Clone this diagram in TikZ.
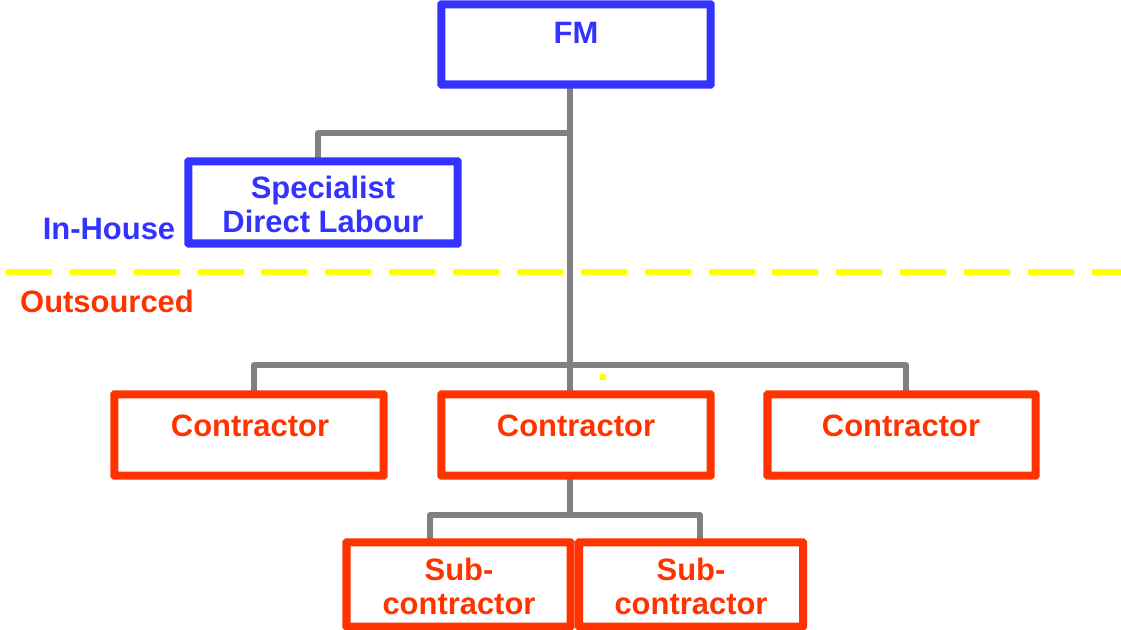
\documentclass[tikz,border=0pt]{standalone}
\usepackage{fontspec}
\setmainfont{Liberation Sans}
\definecolor{fmblue}{RGB}{51,51,255}
\definecolor{fmred}{RGB}{255,51,0}
\definecolor{conngray}{RGB}{128,128,128}
\definecolor{lineyellow}{RGB}{255,255,0}
\begin{document}
\begin{tikzpicture}[x=0.75pt,y=-0.75pt,
  box/.style={draw,rectangle,line width=4.1pt,fill=white,inner sep=0pt,rounded corners=1pt,minimum width=199.9pt},
  bluebox/.style={box,draw=fmblue},
  redbox/.style={box,draw=fmred},
  lbl/.style={font=\bfseries\fontsize{23.2}{25.5}\selectfont,align=center,inner sep=0pt},
  bluelbl/.style={lbl,text=fmblue},
  redlbl/.style={lbl,text=fmred},
  conn/.style={draw=conngray,line width=4.2pt,line join=round}]
\useasboundingbox (0,0) rectangle (1121,630);

% junction coordinates
\coordinate (j1) at (570,133);
\coordinate (s1) at (318,133);
\coordinate (b1) at (254,365);
\coordinate (b2) at (906,365);
\coordinate (k0) at (570,515);
\coordinate (k1) at (430,515);
\coordinate (k2) at (700,515);

% dashed separator
\draw[lineyellow,line width=4.5pt,dash pattern=on 34.5pt off 13.4pt] (6,272) -- (1121,272);
\fill[lineyellow] (600,374) rectangle (606,380);

% boxes
\path
  node[bluebox,minimum height=58.1pt] (fm) at (576,44.5) {}
  node[bluebox,minimum height=59.6pt] (spec) at (323,202.5) {}
  node[redbox,minimum height=58.9pt] (cl) at (249,435) {}
  node[redbox,minimum height=58.9pt] (cm) at (576,435) {}
  node[redbox,minimum height=58.9pt,minimum width=199.1pt] (cr) at (901.5,435) {}
  node[redbox,minimum height=61.1pt,minimum width=166.1pt] (sl) at (458.5,584.5) {}
  node[redbox,minimum height=61.1pt,minimum width=166.1pt] (sr) at (691,584.5) {};

% connectors
\draw[conn] (fm.south -| j1) -- (cm.north -| j1);
\draw[conn] (j1) -- (s1) -- (s1 |- spec.north);
\draw[conn] (b1 |- cl.north) -- (b1) -- (b2) -- (b2 |- cr.north);
\draw[conn] (cm.south -| k0) -- (k0);
\draw[conn] (k1 |- sl.north) -- (k1) -- (k2) -- (k2 |- sr.north);

% box outlines on top of connector ends
\foreach \n/\c in {fm/fmblue,spec/fmblue,cl/fmred,cm/fmred,cr/fmred,sl/fmred,sr/fmred}{
  \draw[\c,line width=4.1pt,rounded corners=1pt] (\n.north west) rectangle (\n.south east);
}

% labels
\node[bluelbl] (tfm) at (576,33) {FM};
\node[bluelbl] (tspec) at (323,204) {Specialist\\Direct Labour};
\node[bluelbl] (tin) at (109,229) {In-House};
\node[redlbl] (tout) at (107,301) {Outsourced};
\node[redlbl] (tcl) at (250,426) {Contractor};
\node[redlbl] (tcm) at (576,426) {Contractor};
\node[redlbl] (tcr) at (901,426) {Contractor};
\node[redlbl] (tsl) at (459,586) {Sub-\\contractor};
\node[redlbl] (tsr) at (691,586) {Sub-\\contractor};
\end{tikzpicture}
\end{document}
